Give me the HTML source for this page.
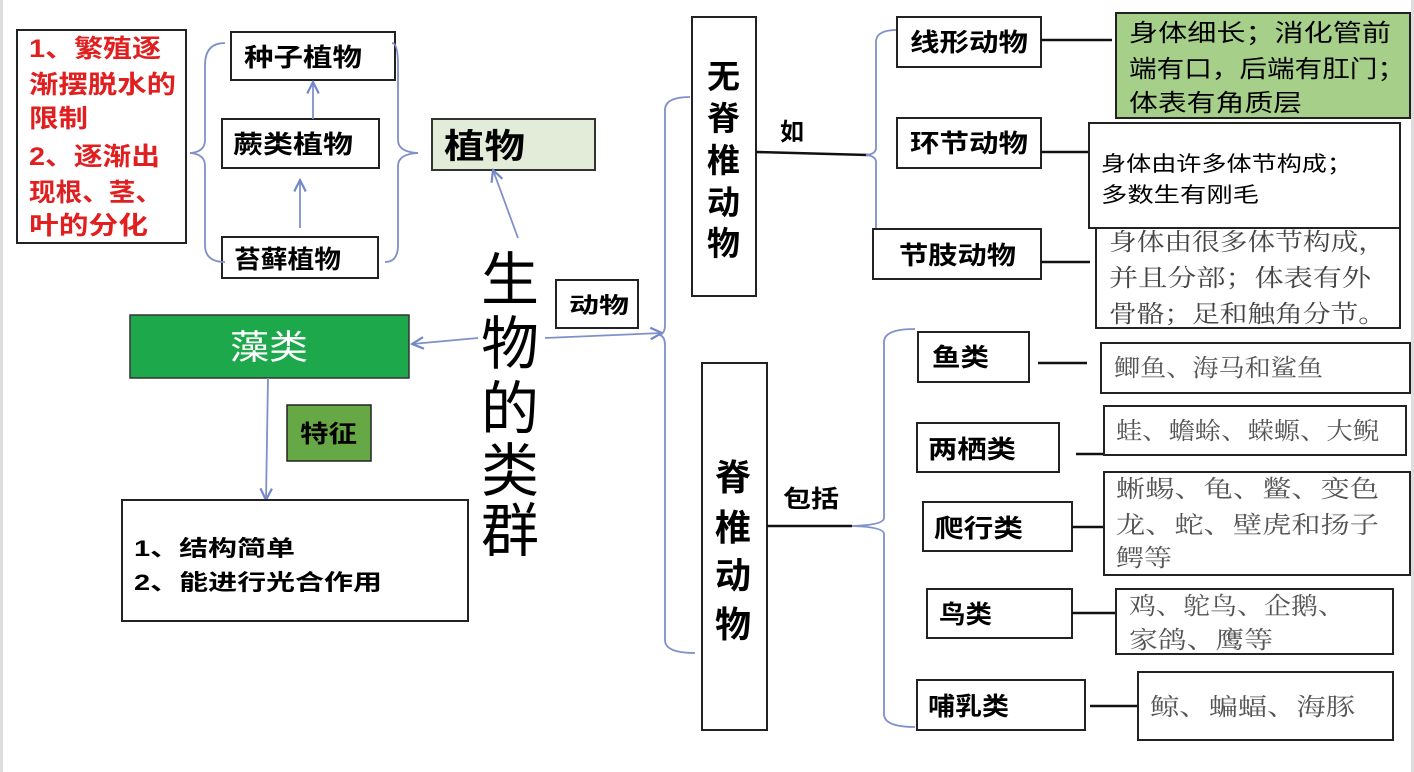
<!DOCTYPE html>
<html><head><meta charset="utf-8"><style>
html,body{margin:0;padding:0;background:#fff;}
svg{display:block;}
.b{font-family:"Liberation Sans","Noto Sans CJK SC",sans-serif;font-weight:bold;fill:#000;}
.n{font-family:"Liberation Sans","Noto Sans CJK SC",sans-serif;fill:#000;}
.s{font-family:"Liberation Serif","Noto Serif CJK SC",serif;fill:#555;}
.box{fill:#fff;stroke:#222;stroke-width:2;}
.bl{fill:none;stroke:#8090c8;stroke-width:1.8;}
.ln{stroke:#111;stroke-width:2.5;}
</style></head><body>
<svg width="1414" height="772" viewBox="0 0 1414 772" xmlns="http://www.w3.org/2000/svg">
<defs><marker id="a" viewBox="0 0 10 10" refX="9" refY="5" markerWidth="8" markerHeight="8" orient="auto"><path d="M1 1 L9 5 L1 9" fill="none" stroke="#7088c8" stroke-width="1.5"/></marker></defs>
<rect x="0" y="0" width="3" height="772" fill="#ddd"/>
<rect x="1411" y="0" width="3" height="772" fill="#ddd"/>

<!-- red box -->
<rect class="box" x="17" y="30" width="169" height="213"/>
<g class="b" style="fill:#e02020" font-size="25">
<text x="29" y="57" textLength="132" lengthAdjust="spacingAndGlyphs">1、繁殖逐</text>
<text x="29" y="93" textLength="147" lengthAdjust="spacingAndGlyphs">渐摆脱水的</text>
<text x="29" y="127" textLength="59" lengthAdjust="spacingAndGlyphs">限制</text>
<text x="29" y="165" textLength="131" lengthAdjust="spacingAndGlyphs">2、逐渐出</text>
<text x="29" y="201" textLength="133" lengthAdjust="spacingAndGlyphs">现根、茎、</text>
<text x="29" y="234" textLength="119" lengthAdjust="spacingAndGlyphs">叶的分化</text></g>

<!-- plant boxes -->
<rect class="box" x="231" y="32" width="164" height="48"/><text class="b" x="244" y="66" font-size="25" textLength="118" lengthAdjust="spacingAndGlyphs">种子植物</text>
<rect class="box" x="222" y="119" width="157" height="49"/><text class="b" x="233" y="153" font-size="25" textLength="120" lengthAdjust="spacingAndGlyphs">蕨类植物</text>
<rect class="box" x="222" y="237" width="156" height="41"/><text class="b" x="234" y="268" font-size="25" textLength="107" lengthAdjust="spacingAndGlyphs">苔藓植物</text>
<path class="bl" d="M225 43 Q205 43 205 65 L205 140 Q205 152 190 153 Q205 154 205 166 L205 245 Q205 262 225 262"/>
<path class="bl" d="M392 43 Q398 43 398 65 L398 140 Q398 152 418 153 Q398 154 398 166 L398 245 Q398 262 385 262"/>
<line class="bl" x1="313" y1="119" x2="313" y2="82" marker-end="url(#a)"/>
<line class="bl" x1="300" y1="228" x2="300" y2="180" marker-end="url(#a)"/>

<rect x="432" y="119" width="163" height="51" fill="#e2ecd8" stroke="#333" stroke-width="2"/>
<text class="b" x="444" y="158" font-size="34" textLength="81" lengthAdjust="spacingAndGlyphs">植物</text>
<line class="bl" x1="518" y1="238" x2="493" y2="170" marker-end="url(#a)"/>

<!-- big title -->
<g class="n" font-size="58">
<text x="481" y="300">生</text><text x="481" y="364">物</text><text x="481" y="429">的</text><text x="481" y="491">类</text><text x="481" y="551">群</text></g>

<rect class="box" x="556" y="280" width="82" height="48"/><text class="b" x="569" y="313" font-size="22" textLength="60" lengthAdjust="spacingAndGlyphs">动物</text>
<line class="bl" x1="545" y1="338" x2="662" y2="333" marker-end="url(#a)"/>
<line class="bl" x1="478" y1="338" x2="412" y2="344" marker-end="url(#a)"/>

<rect x="130" y="315" width="279" height="63" fill="#1ea84c" stroke="#333" stroke-width="1.5"/>
<text class="n" x="230" y="359" font-size="34" textLength="78" lengthAdjust="spacingAndGlyphs" style="fill:#fff">藻类</text>
<line class="bl" x1="268" y1="378" x2="266" y2="500" marker-end="url(#a)"/>
<rect x="287" y="405" width="84" height="56" fill="#66a845" stroke="#222" stroke-width="1.5"/>
<text class="b" x="300" y="442" font-size="24" textLength="57" lengthAdjust="spacingAndGlyphs">特征</text>
<rect class="box" x="122" y="500" width="346" height="121"/>
<text class="b" x="134" y="556" font-size="22" textLength="161" lengthAdjust="spacingAndGlyphs">1、结构简单</text>
<text class="b" x="134" y="590" font-size="22" textLength="248" lengthAdjust="spacingAndGlyphs">2、能进行光合作用</text>

<!-- right big bracket -->
<path class="bl" d="M690 97 Q665 97 665 110 L665 325 Q665 333 660 335 Q665 337 665 345 L665 640 Q665 653 695 653"/>

<!-- invertebrates -->
<rect class="box" x="692" y="17" width="64" height="279"/>
<g class="b" font-size="33"><text x="707" y="88">无</text><text x="707" y="130">脊</text><text x="707" y="172">椎</text><text x="707" y="214">动</text><text x="707" y="255">物</text></g>
<text class="b" x="780" y="140" font-size="24">如</text>
<line class="ln" x1="756" y1="152" x2="868" y2="155"/>
<path class="bl" d="M897 30 Q876 30 876 42 L876 148 Q876 154 866 155 Q876 156 876 162 L876 266 Q876 278 897 278"/>
<rect class="box" x="897" y="17" width="144" height="50"/><text class="b" x="910" y="51" font-size="25" textLength="118" lengthAdjust="spacingAndGlyphs">线形动物</text>
<line class="ln" x1="1041" y1="40" x2="1112" y2="40"/>
<rect x="1116" y="13" width="294" height="105" fill="#a6cf8a" stroke="#222" stroke-width="2"/>
<g class="n" font-size="24"><text x="1129" y="41" textLength="262" lengthAdjust="spacingAndGlyphs">身体细长；消化管前</text><text x="1129" y="77" textLength="276" lengthAdjust="spacingAndGlyphs">端有口，后端有肛门；</text><text x="1129" y="111" textLength="173" lengthAdjust="spacingAndGlyphs">体表有角质层</text></g>
<rect class="box" x="897" y="118" width="144" height="50"/><text class="b" x="910" y="152" font-size="25" textLength="118" lengthAdjust="spacingAndGlyphs">环节动物</text>
<line class="ln" x1="1041" y1="152" x2="1090" y2="152"/>
<rect class="box" x="1096" y="228" width="304" height="100"/>
<g class="s" font-size="24" style="fill:#444"><text x="1109" y="250" textLength="277" lengthAdjust="spacingAndGlyphs">身体由很多体节构成，</text><text x="1109" y="286" textLength="262" lengthAdjust="spacingAndGlyphs">并且分部；体表有外</text><text x="1109" y="322" textLength="277" lengthAdjust="spacingAndGlyphs">骨骼；足和触角分节。</text></g>
<rect class="box" x="1089" y="123" width="311" height="105"/>
<g class="n" font-size="21"><text x="1101" y="171" textLength="251" lengthAdjust="spacingAndGlyphs">身体由许多体节构成；</text><text x="1101" y="202" textLength="158" lengthAdjust="spacingAndGlyphs">多数生有刚毛</text></g>
<rect class="box" x="873" y="229" width="168" height="50"/><text class="b" x="899" y="264" font-size="25" textLength="117" lengthAdjust="spacingAndGlyphs">节肢动物</text>
<line class="ln" x1="1041" y1="262" x2="1090" y2="262"/>

<!-- vertebrates -->
<rect class="box" x="702" y="363" width="65" height="367"/>
<g class="b" font-size="36"><text x="715" y="490">脊</text><text x="715" y="540">椎</text><text x="715" y="588">动</text><text x="715" y="637">物</text></g>
<text class="b" x="783" y="507" font-size="24" textLength="56" lengthAdjust="spacingAndGlyphs">包括</text>
<line class="ln" x1="767" y1="526" x2="852" y2="526"/>
<path class="bl" d="M915 329 Q884 329 884 342 L884 518 Q884 525 852 526 Q884 527 884 534 L884 714 Q884 727 915 727"/>

<rect class="box" x="918" y="332" width="111" height="50"/><text class="b" x="932" y="366" font-size="25" textLength="57" lengthAdjust="spacingAndGlyphs">鱼类</text>
<line class="ln" x1="1038" y1="363" x2="1087" y2="363"/>
<rect class="box" x="1101" y="343" width="309" height="50"/><text class="s" x="1114" y="376" font-size="24" textLength="209" lengthAdjust="spacingAndGlyphs">鲫鱼、海马和鲨鱼</text>

<rect class="box" x="917" y="423" width="142" height="49"/><text class="b" x="928" y="458" font-size="25" textLength="88" lengthAdjust="spacingAndGlyphs">两栖类</text>
<line class="ln" x1="1076" y1="454" x2="1105" y2="454"/>
<rect class="box" x="1104" y="406" width="302" height="49"/><text class="s" x="1116" y="439" font-size="24" textLength="263" lengthAdjust="spacingAndGlyphs">蛙、蟾蜍、蝾螈、大鲵</text>

<rect class="box" x="923" y="502" width="149" height="49"/><text class="b" x="934" y="537" font-size="25" textLength="89" lengthAdjust="spacingAndGlyphs">爬行类</text>
<line class="ln" x1="1072" y1="527" x2="1104" y2="527"/>
<rect class="box" x="1104" y="472" width="306" height="103"/>
<g class="s" font-size="24"><text x="1116" y="497" textLength="263" lengthAdjust="spacingAndGlyphs">蜥蜴、龟、鳖、变色</text><text x="1116" y="533" textLength="263" lengthAdjust="spacingAndGlyphs">龙、蛇、壁虎和扬子</text><text x="1116" y="566" textLength="56" lengthAdjust="spacingAndGlyphs">鳄等</text></g>

<rect class="box" x="927" y="589" width="145" height="49"/><text class="b" x="939" y="623" font-size="25" textLength="53" lengthAdjust="spacingAndGlyphs">鸟类</text>
<line class="ln" x1="1072" y1="613" x2="1116" y2="613"/>
<rect class="box" x="1116" y="589" width="277" height="65"/>
<g class="s" font-size="24"><text x="1129" y="614" textLength="216" lengthAdjust="spacingAndGlyphs">鸡、鸵鸟、企鹅、</text><text x="1129" y="648" textLength="144" lengthAdjust="spacingAndGlyphs">家鸽、鹰等</text></g>

<rect class="box" x="917" y="680" width="168" height="50"/><text class="b" x="928" y="715" font-size="25" textLength="81" lengthAdjust="spacingAndGlyphs">哺乳类</text>
<line class="ln" x1="1090" y1="706" x2="1138" y2="706"/>
<rect class="box" x="1138" y="672" width="255" height="68"/><text class="s" x="1150" y="715" font-size="24" textLength="205" lengthAdjust="spacingAndGlyphs">鲸、蝙蝠、海豚</text>
</svg>
</body></html>
